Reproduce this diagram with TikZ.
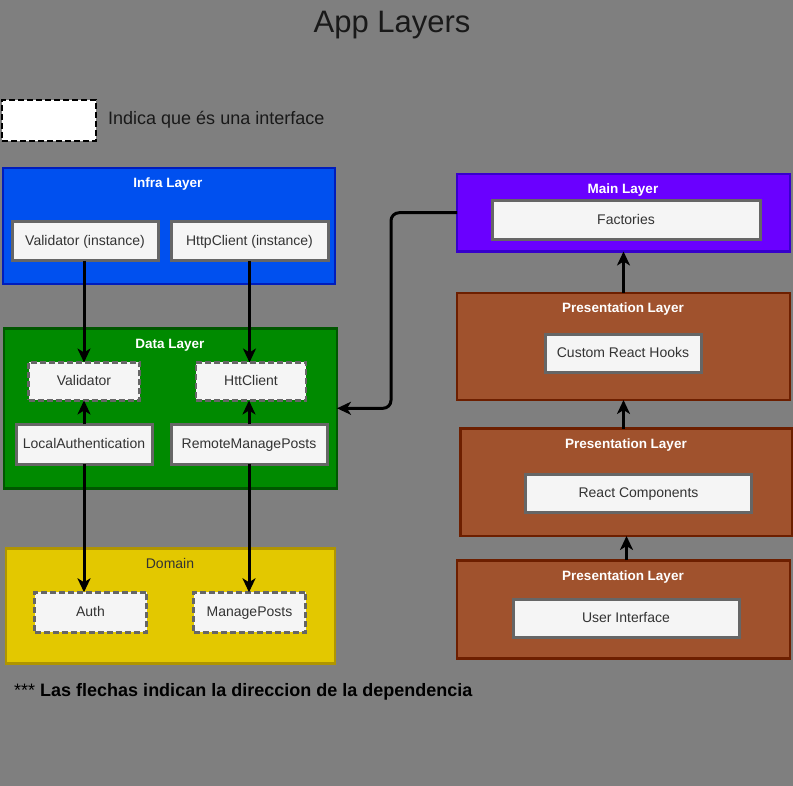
\documentclass[tikz,border=0pt]{standalone}
\usepackage{fontspec}
\setmainfont{Liberation Sans}
\usetikzlibrary{arrows.meta}
\definecolor{bg}{HTML}{7F7F7F}
\definecolor{infrafill}{HTML}{0050EF}
\definecolor{infrastroke}{HTML}{001DBC}
\definecolor{datafill}{HTML}{008A00}
\definecolor{datastroke}{HTML}{005700}
\definecolor{domfill}{HTML}{E3C800}
\definecolor{domstroke}{HTML}{B09500}
\definecolor{mainfill}{HTML}{6A00FF}
\definecolor{mainstroke}{HTML}{3700CC}
\definecolor{presfill}{HTML}{A0522D}
\definecolor{presstroke}{HTML}{6D1F00}
\definecolor{boxfill}{HTML}{F5F5F5}
\definecolor{boxstroke}{HTML}{666666}
\definecolor{boxtext}{HTML}{333333}
\tikzset{
  layer/.style={draw, line width=2.5pt, anchor=north west, inner sep=0pt, outer sep=0pt},
  ltitle/.style={text=white, font=\fontsize{13.5}{15}\selectfont\bfseries, inner sep=0pt, text height=9.5pt, text depth=2.5pt},
  inbox/.style={draw=boxstroke, fill=boxfill, line width=3pt, anchor=north west, inner sep=0pt, outer sep=0pt, text=boxtext, font=\fontsize{14}{16}\selectfont, text height=10pt, text depth=2.5pt},
  ifbox/.style={inbox, dash pattern=on 6pt off 3pt, line width=2.5pt},
  arr/.style={draw=black, line width=3pt, -{Stealth[length=14pt,width=13pt,inset=4pt]}},
}
\begin{document}
\begin{tikzpicture}[x=1pt,y=-1pt]
\fill[bg] (0,0) rectangle (793,786);
\useasboundingbox (0,0) rectangle (793,786);

\node[text=black!90, font=\fontsize{31}{34}\selectfont, inner sep=0pt] (title) at (392,25) {App Layers};

% legend
\node[draw=black, fill=white, line width=2pt, dash pattern=on 6pt off 3pt, anchor=north west, minimum width=94pt, minimum height=41pt, inner sep=0pt] (legend) at (1,99) {};
\node[anchor=west, text=black!90, font=\fontsize{18}{21}\selectfont, inner sep=0pt] (legendtxt) at (108,120) {Indica que és una interface};

% Infra layer
\node[layer, fill=infrafill, draw=infrastroke, minimum width=332pt, minimum height=116pt] (infra) at (3,168) {};
\node[ltitle] (infratitle) at (168,184.5) {Infra Layer};
\node[inbox, minimum width=146pt, minimum height=39pt] (vinst) at (12,222) {Validator (instance)};
\node[inbox, minimum width=157pt, minimum height=39pt] (hinst) at (171,222) {HttpClient (instance)};

% Data layer
\node[layer, fill=datafill, draw=datastroke, minimum width=333pt, minimum height=160pt] (data) at (4,328.3) {};
\node[ltitle] (datatitle) at (170,345.5) {Data Layer};
\node[ifbox, minimum width=111pt, minimum height=38pt] (vint) at (28.5,362.5) {Validator};
\node[ifbox, minimum width=110pt, minimum height=38pt] (hint) at (196,362.5) {HttClient};
\node[inbox, minimum width=136pt, minimum height=40pt] (la) at (16,424.3) {LocalAuthentication};
\node[inbox, minimum width=156pt, minimum height=40pt] (rmp) at (171,424.3) {RemoteManagePosts};

% Domain
\node[layer, fill=domfill, draw=domstroke, minimum width=329pt, minimum height=115pt] (domain) at (6,548.5) {};
\node[text=boxtext, font=\fontsize{14}{16}\selectfont, inner sep=0pt, text height=10pt, text depth=2.5pt] (domtitle) at (170,564.5) {Domain};
\node[ifbox, minimum width=112pt, minimum height=40pt] (auth) at (34.5,592.3) {Auth};
\node[ifbox, minimum width=112pt, minimum height=40pt] (mp) at (193.5,592.3) {ManagePosts};

% footer
\node[anchor=west, text=black, font=\fontsize{18}{21}\selectfont, inner sep=0pt] (footer) at (14,692) {*** \textbf{Las flechas indican la direccion de la dependencia}};

% Main layer
\node[layer, fill=mainfill, draw=mainstroke, minimum width=333pt, minimum height=77.5pt] (main) at (457,174) {};
\node[ltitle] (maintitle) at (623,190.5) {Main Layer};
\node[inbox, minimum width=268pt, minimum height=39pt] (fact) at (492,201) {Factories};

% Presentation layers
\node[layer, fill=presfill, draw=presstroke, minimum width=333pt, minimum height=107pt] (p1) at (457,293) {};
\node[ltitle] (p1title) at (623,309.5) {Presentation Layer};
\node[inbox, minimum width=156pt, minimum height=38pt] (hooks) at (545,334.3) {Custom React Hooks};

\node[layer, fill=presfill, draw=presstroke, minimum width=332pt, minimum height=107.5pt] (p2) at (460.5,428.5) {};
\node[ltitle] (p2title) at (626,444.5) {Presentation Layer};
\node[inbox, minimum width=226pt, minimum height=38pt] (rc) at (525.5,474.3) {React Components};

\node[layer, fill=presfill, draw=presstroke, minimum width=333pt, minimum height=98pt] (p3) at (457,560.3) {};
\node[ltitle] (p3title) at (623,576.5) {Presentation Layer};
\node[inbox, minimum width=226pt, minimum height=38pt] (ui) at (513,599.5) {User Interface};

% connectors
\draw[arr] (vinst.south -| vint.north) -- (vint.north);
\draw[arr] (hinst.south) -- (hinst.south |- hint.north);
\draw[arr] (la.north) -- (la.north |- vint.south);
\draw[arr] (rmp.north) -- (rmp.north |- hint.south);
\draw[arr] (la.south) -- (la.south |- auth.north);
\draw[arr] (rmp.south) -- (rmp.south |- mp.north);
\draw[arr] (p1.north) -- (p1.north |- main.south);
\draw[arr] (p2.north -| p1.south) -- (p1.south);
\draw[arr] (p3.north -| p2.south) -- (p2.south);
\draw[arr, rounded corners=8pt] (main.west) -- ++(-66,0) |- (data.east);
\end{tikzpicture}
\end{document}
